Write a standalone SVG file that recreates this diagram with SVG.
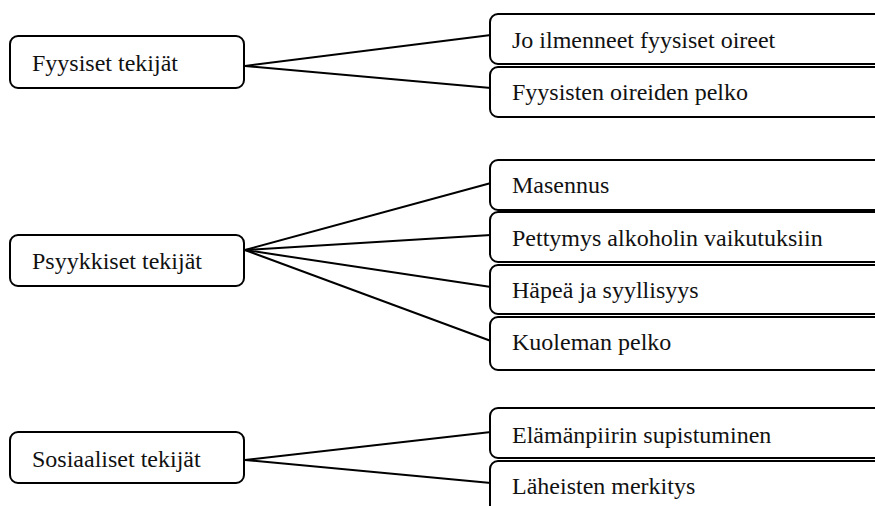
<svg xmlns="http://www.w3.org/2000/svg" width="875" height="506" viewBox="0 0 875 506">
<style>
.box{fill:#fff;stroke:#000;stroke-width:2}
.lbl{font-family:"Liberation Serif","Times New Roman",serif;font-size:24px;fill:#111}
.conn line{stroke:#000;stroke-width:2}
</style>
<rect width="875" height="506" fill="#fff"/>
<g class="conn" id="connectors">
<line x1="245" y1="66" x2="491" y2="35"/>
<line x1="245" y1="66" x2="491" y2="88"/>
<line x1="245" y1="250" x2="491" y2="183"/>
<line x1="245" y1="250" x2="491" y2="235"/>
<line x1="245" y1="250" x2="491" y2="287"/>
<line x1="245" y1="250" x2="491" y2="341"/>
<line x1="245" y1="460" x2="491" y2="432"/>
<line x1="245" y1="460" x2="491" y2="483"/>
</g>
<g id="fyysiset"><rect class="box" x="10" y="36" width="234" height="52" rx="8"/><text class="lbl" x="32" y="71">Fyysiset tekijät</text></g>
<g id="psyykkiset"><rect class="box" x="10" y="235" width="234" height="51" rx="8"/><text class="lbl" x="32" y="269">Psyykkiset tekijät</text></g>
<g id="sosiaaliset"><rect class="box" x="10" y="432" width="234" height="51" rx="8"/><text class="lbl" x="32" y="467">Sosiaaliset tekijät</text></g>
<g id="f1"><rect class="box" x="490" y="14" width="400" height="50" rx="8"/><text class="lbl" x="512" y="48">Jo ilmenneet fyysiset oireet</text></g>
<g id="f2"><rect class="box" x="490" y="67" width="400" height="50" rx="8"/><text class="lbl" x="512" y="100">Fyysisten oireiden pelko</text></g>
<g id="p1"><rect class="box" x="490" y="160" width="400" height="50" rx="8"/><text class="lbl" x="512" y="193">Masennus</text></g>
<g id="p2"><rect class="box" x="490" y="212" width="400" height="50" rx="8"/><text class="lbl" x="512" y="246">Pettymys alkoholin vaikutuksiin</text></g>
<g id="p3"><rect class="box" x="490" y="265" width="400" height="49" rx="8"/><text class="lbl" x="512" y="298">Häpeä ja syyllisyys</text></g>
<g id="p4"><rect class="box" x="490" y="317" width="400" height="53" rx="8"/><text class="lbl" x="512" y="350">Kuoleman pelko</text></g>
<g id="s1"><rect class="box" x="490" y="408" width="400" height="50" rx="8"/><text class="lbl" x="512" y="443">Elämänpiirin supistuminen</text></g>
<g id="s2"><rect class="box" x="490" y="461" width="400" height="60" rx="8"/><text class="lbl" x="512" y="494">Läheisten merkitys</text></g>
</svg>
